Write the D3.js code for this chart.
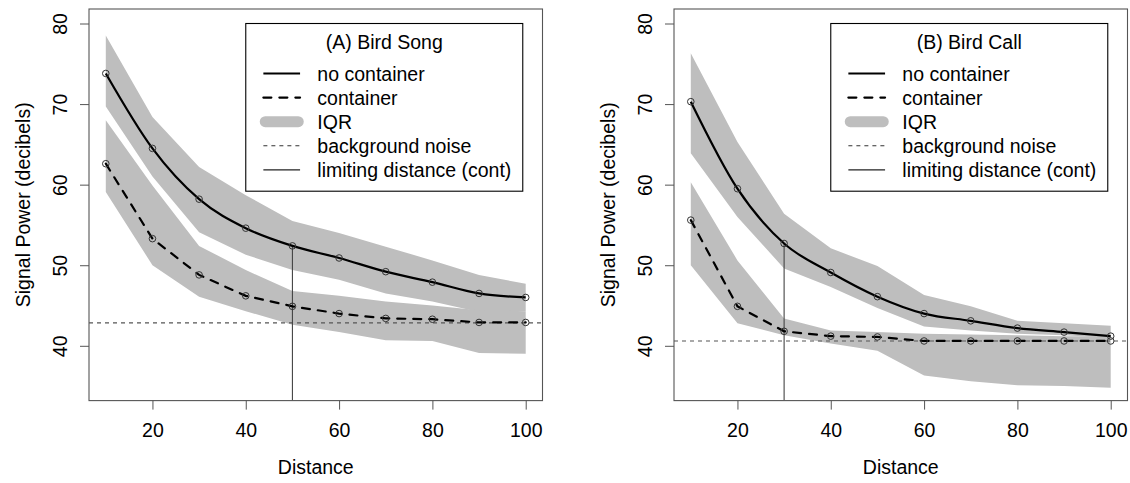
<!DOCTYPE html>
<html><head><meta charset="utf-8">
<script src="https://cdn.jsdelivr.net/npm/d3@7"></script>
<style>
html,body{margin:0;padding:0;background:#fff;}
text{font-family:"Liberation Sans",Arial,sans-serif;fill:#000;}
</style></head>
<body>
<svg id="chart" width="1130" height="483"></svg>
<script>
// ---------- data ----------
const distances = [10,20,30,40,50,60,70,80,90,100];
const xTicks = [20,40,60,80,100];
const yTicks = [40,50,60,70,80];

const songNoCont   = [73.8,64.5,58.2,54.6,52.4,50.9,49.2,47.9,46.5,46.0];
const songCont     = [62.6,53.3,48.8,46.2,44.9,44.0,43.4,43.3,42.9,42.9];
const songNoContLo = [69.7,61.0,54.1,51.3,49.4,48.2,46.5,45.5,44.2,44.3];
const songNoContHi = [78.5,68.4,62.2,58.7,55.5,54.0,52.3,50.6,48.8,47.7];
const songContLo   = [59.1,50.0,46.1,44.3,42.6,41.7,40.7,40.6,39.1,39.0];
const songContHi   = [68.0,59.9,52.4,49.4,46.8,46.2,45.5,45.0,44.4,44.3];
const songNoise = 42.85;
const songLimit = 50;

const callNoCont   = [70.3,59.5,52.7,49.1,46.1,44.0,43.1,42.2,41.7,41.2];
const callCont     = [55.6,44.9,41.8,41.2,41.1,40.6,40.6,40.6,40.6,40.6];
const callNoContLo = [63.9,56.0,49.6,47.3,44.7,42.4,41.9,41.5,41.3,41.0];
const callNoContHi = [76.3,65.3,56.4,52.1,49.9,46.3,44.9,43.1,42.8,42.5];
const callContLo   = [50.0,42.8,41.3,40.3,39.4,36.3,35.6,35.1,35.0,34.8];
const callContHi   = [60.3,50.6,43.4,41.9,41.7,41.5,41.4,41.3,41.2,41.2];
const callNoise = 40.6;
const callLimit = 30;

const legendLabels = ["no container","container","IQR","background noise","limiting distance (cont)"];
const panelTitles = ["(A) Bird Song","(B) Bird Call"];
const xTitle = "Distance";
const yTitle = "Signal Power (decibels)";

// ---------- layout ----------
const svg = d3.select("#chart");
const FS = 19.5;
const panels = [
  {left:89, right:542.5, title:panelTitles[0], noCont:songNoCont, cont:songCont,
   ncLo:songNoContLo, ncHi:songNoContHi, cLo:songContLo, cHi:songContHi, noise:songNoise, limit:songLimit},
  {left:674, right:1127.5, title:panelTitles[1], noCont:callNoCont, cont:callCont,
   ncLo:callNoContLo, ncHi:callNoContHi, cLo:callContLo, cHi:callContHi, noise:callNoise, limit:callLimit}
];
const plotTop = 9, plotBottom = 400.6;
const xDom = [10 - 0.04*90, 100 + 0.04*90];
const yDom = [35 - 0.04*45, 80 + 0.04*45];

panels.forEach((p,pi) => {
  const x = d3.scaleLinear().domain(xDom).range([p.left, p.right]);
  const y = d3.scaleLinear().domain(yDom).range([plotBottom, plotTop]);
  const g = svg.append("g");

  const clipId = "clip"+pi;
  svg.append("clipPath").attr("id",clipId).append("rect")
    .attr("x",p.left).attr("y",plotTop).attr("width",p.right-p.left).attr("height",plotBottom-plotTop);
  const pg = g.append("g").attr("clip-path",`url(#${clipId})`);

  const area = (lo,hi) => d3.area().x((d,i)=>x(distances[i])).y0((d,i)=>y(lo[i])).y1((d,i)=>y(hi[i]))(distances);
  pg.append("path").attr("d",area(p.ncLo,p.ncHi)).attr("fill","#BEBEBE");
  pg.append("path").attr("d",area(p.cLo,p.cHi)).attr("fill","#BEBEBE");

  // background noise
  pg.append("line").attr("x1",x(xDom[0])).attr("x2",x(xDom[1]))
    .attr("y1",y(p.noise)).attr("y2",y(p.noise))
    .attr("stroke","#555").attr("stroke-width",1.1).attr("stroke-dasharray","4,4");

  // limiting distance
  const li = distances.indexOf(p.limit);
  pg.append("line").attr("x1",x(p.limit)).attr("x2",x(p.limit))
    .attr("y1",y(p.noCont[li])).attr("y2",y(yDom[0]))
    .attr("stroke","#444").attr("stroke-width",1.1);

  const lineSmooth = d3.line().x((d,i)=>x(distances[i])).y(d=>y(d)).curve(d3.curveMonotoneX);
  const lineLin = d3.line().x((d,i)=>x(distances[i])).y(d=>y(d));
  pg.append("path").attr("d",lineSmooth(p.noCont)).attr("fill","none")
    .attr("stroke","#000").attr("stroke-width",2.2).attr("stroke-linejoin","round");
  pg.append("path").attr("d",lineLin(p.cont)).attr("fill","none")
    .attr("stroke","#000").attr("stroke-width",2.2).attr("stroke-dasharray","8,8")
    .attr("stroke-linecap","round");

  [p.noCont,p.cont].forEach(arr => {
    pg.selectAll(null).data(arr).enter().append("circle")
      .attr("cx",(d,i)=>x(distances[i])).attr("cy",d=>y(d)).attr("r",3.3)
      .attr("fill","none").attr("stroke","#333").attr("stroke-width",1);
  });

  // box
  g.append("rect").attr("x",p.left).attr("y",plotTop).attr("width",p.right-p.left).attr("height",plotBottom-plotTop)
    .attr("fill","none").attr("stroke","#555").attr("stroke-width",1.1);

  // axes
  const xa = g.append("g").attr("transform",`translate(0,${plotBottom})`)
    .call(d3.axisBottom(x).tickValues(xTicks).tickSize(9).tickPadding(0).tickFormat(d3.format("d")));
  xa.select(".domain").remove();
  xa.selectAll("line").attr("stroke","#555");
  xa.selectAll("text").attr("font-size",FS).attr("font-family","Liberation Sans, Arial, sans-serif")
    .attr("fill","#000").attr("dy",null).attr("y",29.5).attr("dominant-baseline","central");

  const ya = g.append("g").attr("transform",`translate(${p.left},0)`)
    .call(d3.axisLeft(y).tickValues(yTicks).tickSize(9).tickPadding(0).tickFormat(d3.format("d")));
  ya.select(".domain").remove();
  ya.selectAll("line").attr("stroke","#555");
  ya.selectAll("text").attr("font-size",FS).attr("font-family","Liberation Sans, Arial, sans-serif")
    .attr("fill","#000").attr("x",null).attr("dy",null)
    .attr("text-anchor","middle").attr("dominant-baseline","central")
    .attr("transform","translate(-29.5,0) rotate(-90)");

  g.append("text").attr("x",(p.left+p.right)/2).attr("y",plotBottom+66.5)
    .attr("text-anchor","middle").attr("dominant-baseline","central").attr("font-size",FS).text(xTitle);
  g.append("text").attr("transform",`translate(${p.left-66.5},${(plotTop+plotBottom)/2}) rotate(-90)`)
    .attr("text-anchor","middle").attr("dominant-baseline","central").attr("font-size",FS).text(yTitle);

  // legend
  const lx = x(40), ly = y(80), lw = 277, lh = 167.7;
  const lg = g.append("g");
  lg.append("rect").attr("x",lx).attr("y",ly).attr("width",lw).attr("height",lh)
    .attr("fill","#fff").attr("stroke","#000").attr("stroke-width",1.1);
  lg.append("text").attr("x",lx+lw/2).attr("y",ly+18.5).attr("text-anchor","middle")
    .attr("dominant-baseline","central").attr("font-size",FS).text(p.title);
  const rowY = i => ly + 50 + i*24.1;
  const styles = [
    {w:2.2, c:"#000", dash:null, cap:"butt"},
    {w:2.2, c:"#000", dash:"8,8", cap:"round"},
    {w:11, c:"#BEBEBE", dash:null, cap:"round"},
    {w:1.1, c:"#333", dash:"4,4", cap:"butt"},
    {w:1.1, c:"#222", dash:null, cap:"butt"}
  ];
  legendLabels.forEach((lab,i) => {
    const s = styles[i];
    const ln = lg.append("line").attr("x1",lx+17.6).attr("x2",lx+54.3)
      .attr("y1",rowY(i)).attr("y2",rowY(i))
      .attr("stroke",s.c).attr("stroke-width",s.w).attr("stroke-linecap",s.cap);
    if (s.dash) ln.attr("stroke-dasharray",s.dash);
    if (i===2) ln.attr("x1",lx+19.5).attr("x2",lx+52.5);
    lg.append("text").attr("x",lx+71.6).attr("y",rowY(i)).attr("dominant-baseline","central")
      .attr("font-size",FS).text(lab);
  });
});
</script>
</body></html>
